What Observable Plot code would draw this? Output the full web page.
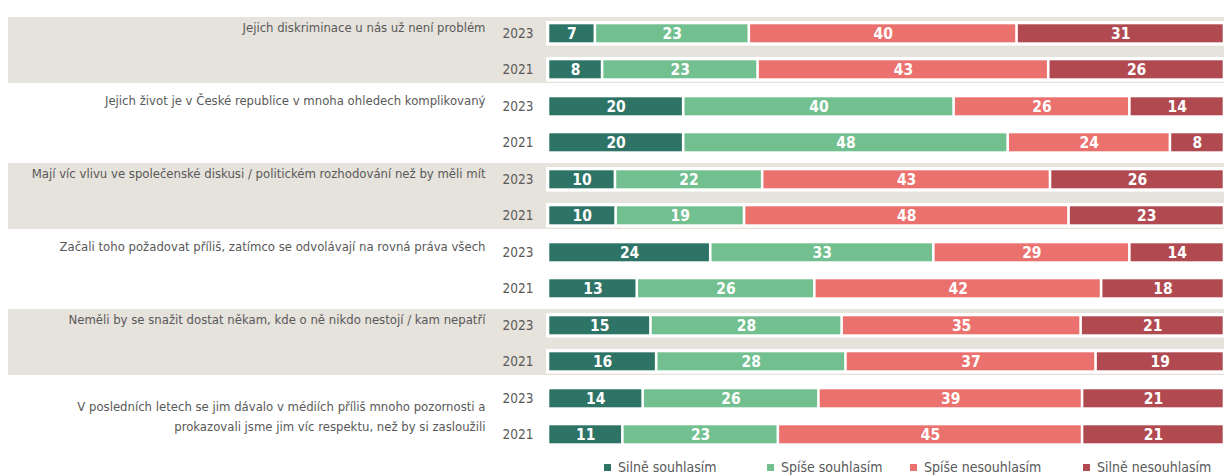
<!DOCTYPE html>
<html><head><meta charset="utf-8">
<script src="https://cdn.jsdelivr.net/npm/d3@7"></script>
<script src="https://cdn.jsdelivr.net/npm/@observablehq/plot@0.6"></script>
<style>
body{margin:0;background:#fff;font-family:"DejaVu Sans Condensed",sans-serif;}
#wrap{position:relative;width:1224px;height:476px;overflow:hidden;}
#legend{position:absolute;left:0;top:457px;width:1224px;height:20px;font-size:14px;color:#595959;line-height:20px;white-space:nowrap;}
#legend .item{position:absolute;top:0;}
#legend .sw{display:inline-block;width:7px;height:7px;margin-right:7px;vertical-align:middle;position:relative;top:-1px;}
</style></head>
<body><div id="wrap"><div id="chart"></div><div id="legend"></div></div>
<script>
const statements = [
  "Jejich diskriminace u nás už není problém",
  "Jejich život je v České republice v mnoha ohledech komplikovaný",
  "Mají víc vlivu ve společenské diskusi / politickém rozhodování než by měli mít",
  "Začali toho požadovat příliš, zatímco se odvolávají na rovná práva všech",
  "Neměli by se snažit dostat někam, kde o ně nikdo nestojí / kam nepatří",
  "V posledních letech se jim dávalo v médiích příliš mnoho pozornosti a\nprokazovali jsme jim víc respektu, než by si zasloužili"
];
const years = ["2023", "2021"];
const categories = ["Silně souhlasím", "Spíše souhlasím", "Spíše nesouhlasím", "Silně nesouhlasím"];
const colors = ["#2E7466", "#72BF8F", "#EB716F", "#B04A50"];
// values per row: statement 1 (2023, 2021), statement 2 (2023, 2021), ...
const silneSouhlasim    = [7, 8, 20, 20, 10, 10, 24, 13, 15, 16, 14, 11];
const spiseSouhlasim    = [23, 23, 40, 48, 22, 19, 33, 26, 28, 28, 26, 23];
const spiseNesouhlasim  = [40, 43, 26, 24, 43, 48, 29, 42, 35, 37, 39, 45];
const silneNesouhlasim  = [31, 26, 14, 8, 26, 23, 14, 18, 21, 19, 21, 21];
const shadedStatements = [0, 2, 4];

const series = [silneSouhlasim, spiseSouhlasim, spiseNesouhlasim, silneNesouhlasim];
const rows = [];
const long = [];
for (let i = 0; i < silneSouhlasim.length; i++) {
  const statement = statements[Math.floor(i / 2)];
  const year = years[i % 2];
  rows.push({statement, year});
  categories.forEach((c, k) => long.push({statement, year, category: c, value: series[k][i]}));
}
const shaded = shadedStatements.map(i => statements[i]);
const single = statements.filter(s => !s.includes("\n"));
const multi = statements.filter(s => s.includes("\n"));

const gray = "#595959";
const chart = Plot.plot({
  width: 1224,
  height: 456,
  marginLeft: 548,
  marginRight: 0,
  marginTop: 13.7,
  marginBottom: 2.4,
  style: {fontFamily: '"DejaVu Sans Condensed",sans-serif', background: "white"},
  x: {axis: null, domain: [0, 1]},
  fy: {axis: null, domain: statements, padding: 0},
  y: {axis: null, domain: years, paddingInner: 0.51, paddingOuter: 0.255},
  color: {domain: categories, range: colors},
  marks: [
    Plot.rect(shaded, {fy: d => d, fill: "#E6E2DC", insetLeft: -540, insetTop: 2, insetBottom: 5}),
    Plot.barX(rows, {x1: 0, x2: 1, y: "year", fy: "statement", fill: "white", insetTop: -3.3, insetBottom: -3.3, insetLeft: -2}),
    Plot.barX(long, Plot.stackX({x: "value", y: "year", fy: "statement", fill: "category", offset: "normalize", insetLeft: 1.3, insetRight: 1.3})),
    Plot.text(long, Plot.stackX({x: "value", y: "year", fy: "statement", z: "category", text: "value", offset: "normalize", fill: "white", fontWeight: "bold", fontSize: 15.5})),
    Plot.text(rows, {x: 0, y: "year", fy: "statement", text: "year", textAnchor: "end", dx: -15, fill: gray, fontSize: 13.5}),
    Plot.text(single, {x: 0, y: () => "2023", fy: d => d, text: d => d, textAnchor: "end", dx: -63, dy: -6, fill: gray, fontSize: 13}),
    Plot.text(multi, {x: 0, y: () => "2023", fy: d => d, text: d => d, textAnchor: "end", dx: -63, dy: 15.5, lineAnchor: "middle", lineHeight: 1.6, fill: gray, fontSize: 13})
  ]
});
document.getElementById("chart").appendChild(chart);

const legendX = [604, 767, 910, 1083];
const legend = document.getElementById("legend");
categories.forEach((c, k) => {
  const item = document.createElement("span");
  item.className = "item";
  item.style.left = legendX[k] + "px";
  const sw = document.createElement("span");
  sw.className = "sw";
  sw.style.background = colors[k];
  item.appendChild(sw);
  item.appendChild(document.createTextNode(c));
  legend.appendChild(item);
});
</script>
</body></html>
